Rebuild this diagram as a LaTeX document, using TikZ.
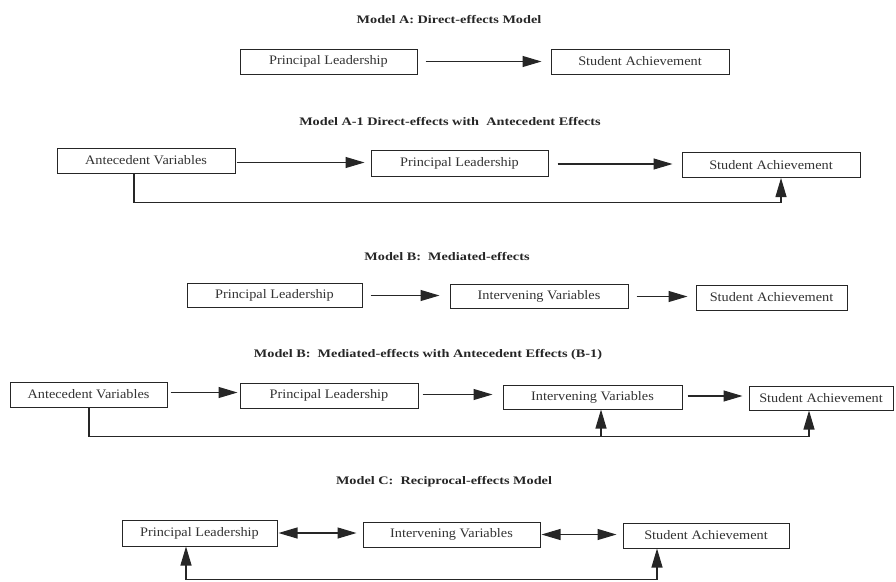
\documentclass[tikz,border=0pt]{standalone}
\usepackage{fontspec}
\setmainfont{Liberation Serif}
\newfontfamily\boxfont[FakeStretch=1.10]{Liberation Serif}
\newfontfamily\ttlfont[FakeStretch=1.24]{Liberation Serif}
\usetikzlibrary{arrows.meta}
\tikzset{
  vbox/.style={draw=black!85, line width=1pt, minimum height=25pt, inner sep=0pt,
    font=\boxfont\fontsize{13}{15}\selectfont, text=black!80},
  ttl/.style={font=\ttlfont\bfseries\fontsize{11.5}{13}\selectfont, text=black!85},
  conn/.style={draw=black!85, line width=1.1pt},
  arr/.style={conn, -{Triangle[length=19pt,width=11pt]}},
  darr/.style={conn, {Triangle[length=19pt,width=11pt]}-{Triangle[length=19pt,width=11pt]}},
}
\begin{document}
\begin{tikzpicture}[x=1pt,y=-1pt]
\useasboundingbox (0,0) rectangle (896,581);
\fill[white] (0,0) rectangle (896,581);

% Model A
\node[ttl] (tA) at (449,20) {Model A: Direct-effects Model};
\node[vbox, minimum width=177pt] (pA) at (328.5,61.5) {Principal Leadership};
\node[vbox, minimum width=178pt] (sA) at (640,61.5) {Student Achievement};
\draw[arr] ([xshift=8pt]pA.east) -- ([xshift=-9pt]pA.east -| sA.west);

% Model A-1
\node[ttl] (tA1) at (450,122) {Model A-1 Direct-effects with~ Antecedent Effects};
\node[vbox, minimum width=178pt] (aA1) at (146,160.5) {Antecedent Variables};
\node[vbox, minimum width=177pt, minimum height=26pt] (pA1) at (459.5,163) {Principal Leadership};
\node[vbox, minimum width=178pt, minimum height=25pt] (sA1) at (771,165) {Student Achievement};
\draw[arr] ([xshift=1pt,yshift=-2pt]aA1.east) -- ([xshift=-6pt,yshift=-2pt]aA1.east -| pA1.west);
\draw[arr] ([xshift=9pt,yshift=-1pt]pA1.east) -- ([xshift=-9pt,yshift=-1pt]pA1.east -| sA1.west);
\draw[arr] ([xshift=-12pt]aA1.south) -- ++(0,29) -| ([xshift=10pt]sA1.south);

% Model B
\node[ttl] (tB) at (447,257) {Model B:~ Mediated-effects};
\node[vbox, minimum width=175pt, minimum height=24pt] (pB) at (274.5,295.5) {Principal Leadership};
\node[vbox, minimum width=178pt, minimum height=24pt] (iB) at (539,296.5) {Intervening Variables};
\node[vbox, minimum width=151pt] (sB) at (771.5,297.5) {Student Achievement};
\draw[arr] ([xshift=8pt]pB.east) -- ([xshift=-10pt]pB.east -| iB.west);
\draw[arr] ([xshift=8pt]iB.east) -- ([xshift=-8pt]iB.east -| sB.west);

% Model B-1
\node[ttl] (tB1) at (428,355) {Model B:~ Mediated-effects with Antecedent Effects (B-1)};
\node[vbox, minimum width=157pt] (aB1) at (88.5,394.5) {Antecedent Variables};
\node[vbox, minimum width=178pt] (pB1) at (329,395.5) {Principal Leadership};
\node[vbox, minimum width=179pt, minimum height=24pt] (iB1) at (592.5,397) {Intervening Variables};
\node[vbox, minimum width=144pt, minimum height=24pt] (sB1) at (821,398) {Student Achievement};
\draw[arr] ([xshift=3pt,yshift=2pt]aB1.east) -- ([xshift=-2pt,yshift=2pt]aB1.east -| pB1.west);
\draw[arr] ([xshift=4pt,yshift=1pt]pB1.east) -- ([xshift=-10pt,yshift=1pt]pB1.east -| iB1.west);
\draw[arr] ([xshift=5pt,yshift=1pt]iB1.east) -- ([xshift=-6pt,yshift=1pt]iB1.east -| sB1.west);
\draw[arr] ([xshift=0.5pt]aB1.south) -- ++(0,29) coordinate (jB1) -| ([xshift=-12pt]sB1.south);
\path ([xshift=8.5pt]iB1.south) coordinate (ivB1);
\draw[arr] (jB1 -| ivB1) -- (ivB1);

% Model C
\node[ttl] (tC) at (444,482) {Model C:~ Reciprocal-effects Model};
\node[vbox, minimum width=155pt, minimum height=26pt] (pC) at (199.5,533) {Principal Leadership};
\node[vbox, minimum width=177pt] (iC) at (451.5,534.5) {Intervening Variables};
\node[vbox, minimum width=166pt] (sC) at (706,535.5) {Student Achievement};
\draw[darr] ([xshift=1pt]pC.east) -- ([xshift=-6pt]pC.east -| iC.west);
\draw[darr] ([xshift=1pt]iC.east) -- ([xshift=-6pt]iC.east -| sC.west);
\draw[darr] ([xshift=-13.5pt]pC.south) -- ++(0,33) -| ([xshift=-49pt]sC.south);
\end{tikzpicture}
\end{document}
